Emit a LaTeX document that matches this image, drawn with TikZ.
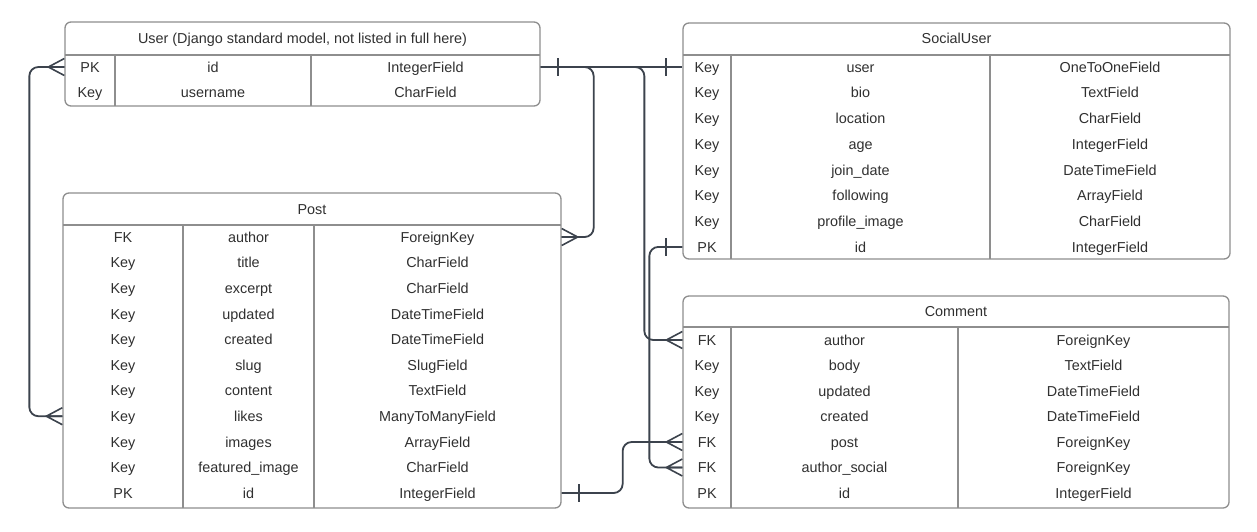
\documentclass[tikz,border=0pt]{standalone}
\usepackage{fontspec}
\setmainfont{Liberation Sans}
\definecolor{txt}{HTML}{303030}
\definecolor{edge}{HTML}{8E8E8E}
\definecolor{conn}{HTML}{3C434D}
\begin{document}
\begin{tikzpicture}[x=1pt,y=-1pt,
  tbl/.style={draw=edge, line width=1.3pt, rounded corners=6pt, inner sep=0pt, fill=white},
  cell/.style={text=txt, font=\fontsize{14.4}{17}\selectfont, inner sep=0pt, text height=10.4pt, text depth=0pt},
  sep/.style={draw=edge, line width=1.1pt},
  rel/.style={draw=conn, line width=1.8pt, rounded corners=9pt},
  bar/.pic={\draw[conn, line width=1.8pt] (0,-9) -- (0,9);},
  crow/.pic={\draw[conn, line width=1.6pt] (0,-8.5) -- (-16,0) -- (0,8.5) (-16,0) -- (0,0);}
]
\useasboundingbox (0,0) rectangle (1257,531);

% ---------- tables ----------
\node[tbl, minimum width=475pt, minimum height=84pt] (User) at (302.5,64) {};
\node[tbl, minimum width=547pt, minimum height=236pt] (SocialUser) at (956.5,141) {};
\node[tbl, minimum width=498pt, minimum height=315pt] (Post) at (312,350.5) {};
\node[tbl, minimum width=546pt, minimum height=212pt] (Comment) at (956,402) {};

% header separators and column lines
\draw[sep] (65,55) -- (540,55) (115,55) -- (115,106) (311,55) -- (311,106);
\draw[sep] (683,55) -- (1230,55) (731,55) -- (731,259) (990,55) -- (990,259);
\draw[sep] (63,225) -- (561,225) (183,225) -- (183,508) (314,225) -- (314,508);
\draw[sep] (683,327) -- (1229,327) (731,327) -- (731,508) (958,327) -- (958,508);

% headers
\node[cell] (uh) at (302.5,38) {User (Django standard model, not listed in full here)};
\node[cell] (sh) at (956.5,38) {SocialUser};
\node[cell] (ph) at (312,209) {Post};
\node[cell] (ch) at (956,311) {Comment};

% User rows
\foreach \k/\n/\t [count=\i] in {PK/id/IntegerField, Key/username/CharField}{
  \node[cell] (u\i k) at (90,{67+25*(\i-1)}) {\k};
  \node[cell] (u\i n) at (213,{67+25*(\i-1)}) {\n};
  \node[cell] (u\i t) at (425.5,{67+25*(\i-1)}) {\t};
}
% SocialUser rows
\foreach \k/\n/\t [count=\i] in {Key/user/OneToOneField, Key/bio/TextField, Key/location/CharField,
  Key/age/IntegerField, Key/join\_date/DateTimeField, Key/following/ArrayField,
  Key/profile\_image/CharField, PK/id/IntegerField}{
  \node[cell] (s\i k) at (707,{67+25.7*(\i-1)}) {\k};
  \node[cell] (s\i n) at (860.5,{67+25.7*(\i-1)}) {\n};
  \node[cell] (s\i t) at (1110,{67+25.7*(\i-1)}) {\t};
}
% Post rows
\foreach \k/\n/\t [count=\i] in {FK/author/ForeignKey, Key/title/CharField, Key/excerpt/CharField,
  Key/updated/DateTimeField, Key/created/DateTimeField, Key/slug/SlugField,
  Key/content/TextField, Key/likes/ManyToManyField, Key/images/ArrayField,
  Key/featured\_image/CharField, PK/id/IntegerField}{
  \node[cell] (p\i k) at (123,{237+25.6*(\i-1)}) {\k};
  \node[cell] (p\i n) at (248.5,{237+25.6*(\i-1)}) {\n};
  \node[cell] (p\i t) at (437.5,{237+25.6*(\i-1)}) {\t};
}
% Comment rows
\foreach \k/\n/\t [count=\i] in {FK/author/ForeignKey, Key/body/TextField, Key/updated/DateTimeField,
  Key/created/DateTimeField, FK/post/ForeignKey, FK/author\_social/ForeignKey, PK/id/IntegerField}{
  \node[cell] (c\i k) at (707,{340+25.5*(\i-1)}) {\k};
  \node[cell] (c\i n) at (844.5,{340+25.5*(\i-1)}) {\n};
  \node[cell] (c\i t) at (1093.5,{340+25.5*(\i-1)}) {\t};
}

% ---------- relations ----------
% User.id -- SocialUser.user (one to one)
\draw[rel] (User.east |- u1t) -- (SocialUser.west |- s1k);
\pic at ([xshift=17pt]User.east |- u1t) {bar};
\pic at ([xshift=-16pt]SocialUser.west |- s1k) {bar};
% User.id -- Post.author
\draw[rel] (User.east |- u1t) -| ([xshift=32pt]Post.east |- p1t) -- (Post.east |- p1t);
\pic[rotate=180] at (Post.east |- p1t) {crow};
% User.id -- Comment.author
\draw[rel] (User.east |- u1t) -| ([xshift=-38pt]Comment.west |- c1k) -- (Comment.west |- c1k);
\pic at (Comment.west |- c1k) {crow};
% User.id -- Post.likes (many to many)
\draw[rel] (User.west |- u1k) -- ([xshift=-35pt]User.west |- u1k) |- (Post.west |- p8k);
\pic at (User.west |- u1k) {crow};
\pic at (Post.west |- p8k) {crow};
% SocialUser.id -- Comment.author_social
\draw[rel] (SocialUser.west |- s8k) -- ([xshift=-33pt]SocialUser.west |- s8k) |- (Comment.west |- c6k);
\pic at ([xshift=-16pt]SocialUser.west |- s8k) {bar};
\pic at (Comment.west |- c6k) {crow};
% Post.id -- Comment.post
\draw[rel] (Post.east |- p11t) -- ([xshift=61pt]Post.east |- p11t) |- (Comment.west |- c5k);
\pic at ([xshift=17pt]Post.east |- p11t) {bar};
\pic at (Comment.west |- c5k) {crow};
\end{tikzpicture}
\end{document}
